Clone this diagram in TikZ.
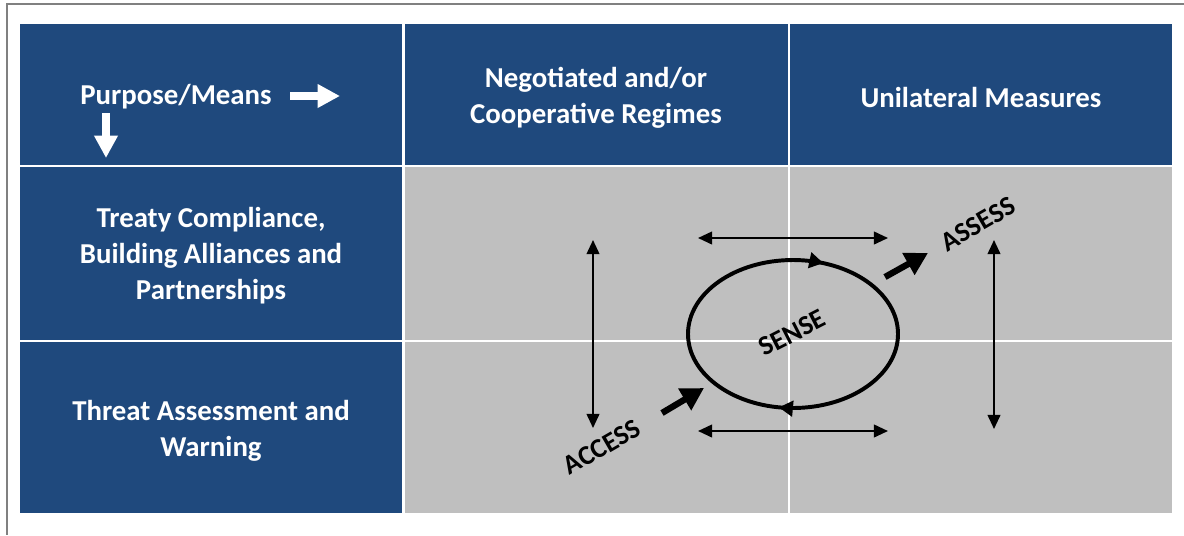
\documentclass[tikz,border=0pt]{standalone}
\usepackage{fontspec}
\setmainfont{Carlito}
\usetikzlibrary{arrows.meta,decorations.markings}
\definecolor{cellblue}{HTML}{1F497D}
\definecolor{cellgray}{HTML}{BFBFBF}
\begin{document}
\begin{tikzpicture}[x=0.025cm,y=-0.025cm]
\tikzstyle{every node}+=[inner sep=0pt]
\tikzstyle{headtext}=[text=white,font=\bfseries\fontsize{20.5}{25.5}\selectfont,align=center]
\tikzstyle{cycletext}=[font=\bfseries\fontsize{19.5}{22}\selectfont]
\tikzstyle{whitearrow}=[white,line width=5pt,-{Triangle[length=16pt,width=16pt]}]
\tikzstyle{blackarrow}=[black,line width=4.5pt,-{Triangle[length=16pt,width=17pt]}]
\tikzstyle{twoway}=[black,line width=1.4pt,{Triangle[length=10pt,width=9pt]}-{Triangle[length=10pt,width=9pt]}]
\useasboundingbox (0,0) rectangle (1184,535);
\draw [gray,line width=0.8pt] (1184,4) -- (7,4) -- (7,535);
% header row and purpose column
\fill [cellblue] (20,24) rectangle (402,165);
\fill [cellblue] (405,24) rectangle (788,165);
\fill [cellblue] (790,24) rectangle (1172,165);
\fill [cellblue] (20,167) rectangle (402,340);
\fill [cellblue] (20,342) rectangle (402,513);
% gray means cells
\fill [cellgray] (405,167) rectangle (788,340);
\fill [cellgray] (790,167) rectangle (1172,340);
\fill [cellgray] (405,342) rectangle (788,513);
\fill [cellgray] (790,342) rectangle (1172,513);
\node [headtext] (pm) at (176,97) {Purpose/Means};
\node [headtext] (coop) at (596,98) {Negotiated and/or\\Cooperative Regimes};
\node [headtext] (uni) at (981,97) {Unilateral Measures};
\node [headtext] (treaty) at (211,256) {Treaty Compliance,\\Building Alliances and\\Partnerships};
\node [headtext] (threat) at (211,431) {Threat Assessment and\\Warning};
\coordinate (pmA) at (290,96);
\coordinate (pmB) at (340,96);
\coordinate (pmC) at (106,113);
\coordinate (pmD) at (106,158);
\draw [whitearrow] (pmA) -- (pmB);
\draw [whitearrow] (pmC) -- (pmD);
% sense cycle
\coordinate (sense) at (793,334);
\draw [black,line width=2.8pt,
  postaction={decorate,decoration={markings,
    mark=at position 0.275 with {\arrow{Triangle[length=10pt,width=11pt]}},
    mark=at position 0.804 with {\arrow{Triangle[length=10pt,width=11pt]}}}}]
  (sense) ellipse [x radius=105,y radius=74];
\node [cycletext,rotate=27] (senselbl) at (792,333) {SENSE};
\node [cycletext,rotate=30] (access) at (602,447) {ACCESS};
\node [cycletext,rotate=30] (assess) at (978,224) {ASSESS};
\coordinate (inA) at (662,413);
\coordinate (inB) at (704,388);
\coordinate (outA) at (885,277);
\coordinate (outB) at (928,253);
\draw [blackarrow] (inA) -- (inB);
\draw [blackarrow] (outA) -- (outB);
% two-way arrows
\coordinate (topL) at (698,238);
\coordinate (topR) at (888,238);
\coordinate (botL) at (698,431);
\coordinate (botR) at (888,431);
\coordinate (lftT) at (593,240);
\coordinate (lftB) at (593,428);
\coordinate (rgtT) at (994,240);
\coordinate (rgtB) at (994,429);
\draw [twoway] (topL) -- (topR);
\draw [twoway] (botL) -- (botR);
\draw [twoway] (lftT) -- (lftB);
\draw [twoway] (rgtT) -- (rgtB);
\end{tikzpicture}
\end{document}
